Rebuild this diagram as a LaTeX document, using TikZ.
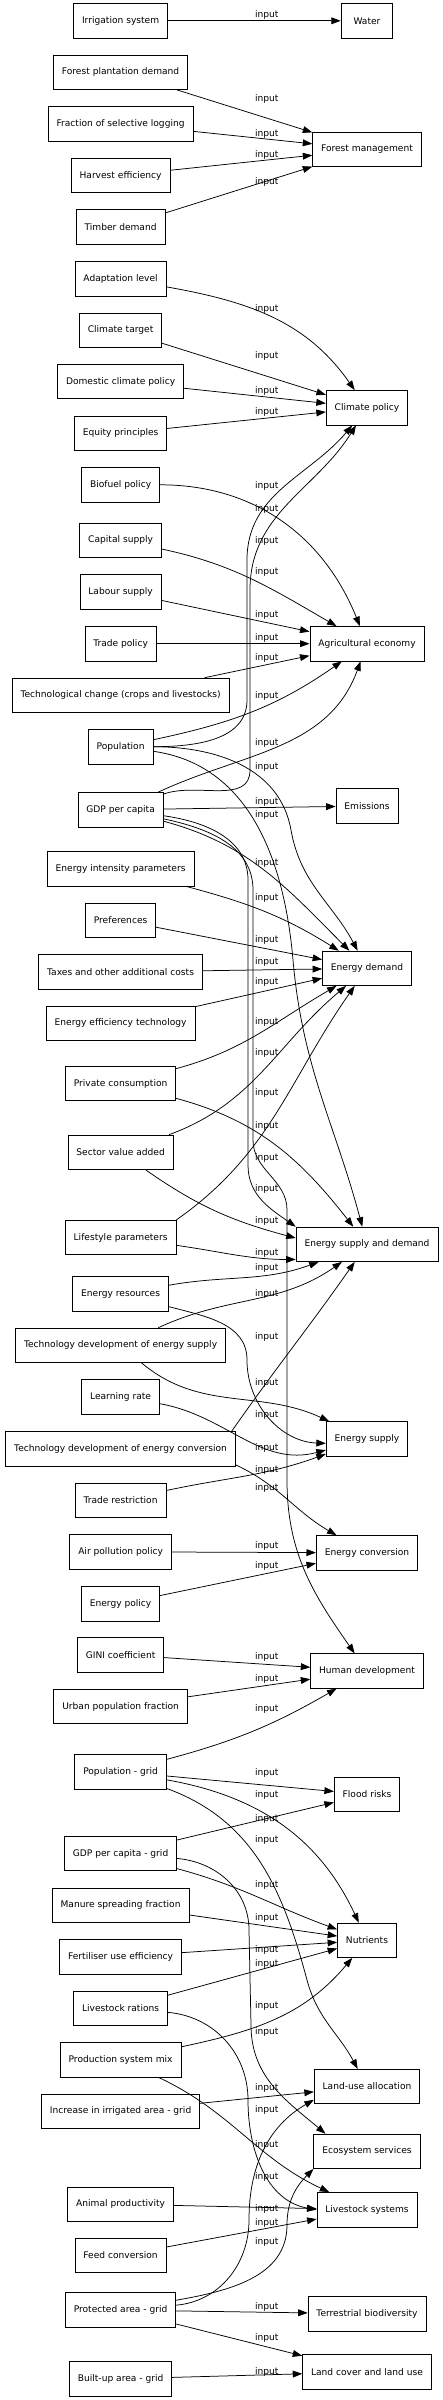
\documentclass[tikz,border=0pt]{standalone}
\usepackage{fontspec}
\setmainfont{DejaVu Sans}
\usetikzlibrary{arrows.meta}

\tikzset{
    var/.style={draw, line width=0.8pt, minimum height=34.4pt, minimum width=51.7pt, inner xsep=8.4pt, font=\fontsize{9.1}{11}\selectfont},
    lbl/.style={inner sep=0pt, font=\fontsize{9.1}{11}\selectfont},
    dep/.style={draw, line width=0.75pt, -{Triangle[length=9.5pt,width=6.8pt]}},
}

\begin{document}
\begin{tikzpicture}[x=1pt,y=1pt]
    \useasboundingbox (0,0) rectangle (442,-2400);

    % inputs
    \begin{scope}[every node/.style={var}]
        \node (irr) at (120.6,-20.8) {Irrigation system};
        \node (fpd) at (120.6,-72.2) {Forest plantation demand};
        \node (fsl) at (120.6,-123.8) {Fraction of selective logging};
        \node (hef) at (120.6,-175.5) {Harvest efficiency};
        \node (tim) at (120.6,-227) {Timber demand};
        \node (ada) at (120.6,-278.8) {Adaptation level};
        \node (ctg) at (120.6,-330.2) {Climate target};
        \node (dcp) at (120.6,-381.5) {Domestic climate policy};
        \node (eqp) at (120.6,-433.3) {Equity principles};
        \node (bio) at (120.6,-484.8) {Biofuel policy};
        \node (cap) at (120.6,-540.3) {Capital supply};
        \node (lab) at (120.6,-591.8) {Labour supply};
        \node (trp) at (120.6,-643.7) {Trade policy};
        \node (tch) at (120.6,-695.3) {Technological change (crops and livestocks)};
        \node (pop) at (120.6,-746.7) {Population};
        \node (gdp) at (120.6,-809.7) {GDP per capita};
        \node (eip) at (120.6,-868.8) {Energy intensity parameters};
        \node (prf) at (120.6,-920.3) {Preferences};
        \node (tax) at (120.6,-972) {Taxes and other additional costs};
        \node (eet) at (120.6,-1023.3) {Energy efficiency technology};
        \node (pcn) at (120.6,-1083.5) {Private consumption};
        \node (sva) at (120.6,-1152.3) {Sector value added};
        \node (lsp) at (120.6,-1237.5) {Lifestyle parameters};
        \node (ers) at (120.6,-1293.7) {Energy resources};
        \node (tds) at (120.6,-1345.3) {Technology development of energy supply};
        \node (lrn) at (120.6,-1396.8) {Learning rate};
        \node (tdc) at (120.6,-1448.7) {Technology development of energy conversion};
        \node (trr) at (120.6,-1500.2) {Trade restriction};
        \node (app) at (120.6,-1551.8) {Air pollution policy};
        \node (enp) at (120.6,-1603.7) {Energy policy};
        \node (gin) at (120.6,-1654.7) {GINI coefficient};
        \node (upf) at (120.6,-1706.5) {Urban population fraction};
        \node (ppg) at (120.6,-1771.7) {Population - grid};
        \node (gdg) at (120.6,-1853.5) {GDP per capita - grid};
        \node (msf) at (120.6,-1905.2) {Manure spreading fraction};
        \node (fue) at (120.6,-1956.7) {Fertiliser use efficiency};
        \node (lvr) at (120.6,-2008.2) {Livestock rations};
        \node (psm) at (120.6,-2059.7) {Production system mix};
        \node (iia) at (120.6,-2111.3) {Increase in irrigated area - grid};
        \node (anp) at (120.6,-2204.2) {Animal productivity};
        \node (fcv) at (120.6,-2255.5) {Feed conversion};
        \node (pag) at (120.6,-2310) {Protected area - grid};
        \node (bag) at (120.6,-2378.8) {Built-up area - grid};
    \end{scope}

    % modules
    \begin{scope}[every node/.style={var}]
        \node (wat) at (367,-20.8) {Water};
        \node (fmg) at (367,-149.5) {Forest management};
        \node (clp) at (367,-407.7) {Climate policy};
        \node (age) at (367,-643.7) {Agricultural economy};
        \node (ems) at (367,-806) {Emissions};
        \node (edm) at (367,-968.3) {Energy demand};
        \node (esd) at (367,-1244.3) {Energy supply and demand};
        \node (esu) at (367,-1439) {Energy supply};
        \node (eco) at (367,-1552.8) {Energy conversion};
        \node (hdv) at (367,-1671) {Human development};
        \node (flr) at (367,-1794.5) {Flood risks};
        \node (nut) at (367,-1940.3) {Nutrients};
        \node (lua) at (367,-2086.5) {Land-use allocation};
        \node (ecs) at (367,-2151.3) {Ecosystem services};
        \node (lvs) at (367,-2209.7) {Livestock systems};
        \node (tbd) at (367,-2313.8) {Terrestrial biodiversity};
        \node (lcl) at (367,-2372) {Land cover and land use};
    \end{scope}

    % edge labels
    \foreach \y [count=\i] in {14.7,98.7,133.7,154.7,182,309.3,356.3,390.7,411.7,486,508.7,540.7,571.7,
        615,637.7,657.7,695.7,742.7,766.7,801.7,815,863.3,897.7,940,962.3,982.3,
        1021.7,1052.7,1092.7,1126,1157.7,1189,1220.7,1253.3,1267.7,1294.3,1336.7,1383.3,
        1415,1448.3,1470,1488.3,1545.7,1565.7,1657.3,1679,1708.7,1773.3,1795,
        1819.3,1840,1885,1918.3,1950,1964.3,2006,2031.7,2088.3,2110,2145,2176.7,
        2209.3,2223.3,2241.7,2306.7,2338.3,2371.7}
        \node[lbl] (in\i) at (266.7,-\y) {input};

    % water, forest, climate
    \draw[dep] (irr) -- (wat);
    \draw[dep] (fpd) -- (fmg);
    \draw[dep] (fsl) -- (fmg);
    \draw[dep] (hef) -- (fmg);
    \draw[dep] (tim) -- (fmg);
    \draw[dep] (ada) to[out=-10,in=125] (clp);
    \draw[dep] (ctg) -- (clp);
    \draw[dep] (dcp) -- (clp);
    \draw[dep] (eqp) -- (clp);
    \draw[dep] (pop) to[out=0,in=-90] (247,-700) -- (247,-560) to[out=90,in=-130] (clp);
    \draw[dep] (gdp) to[out=20,in=-90] (250,-770) -- (250,-590) to[out=90,in=-122] (clp);

    % agricultural economy
    \draw[dep] (bio) to[out=0,in=112] (age);
    \draw[dep] (cap) to[out=-12,in=150] (age);
    \draw[dep] (lab) -- (age);
    \draw[dep] (trp) -- (age);
    \draw[dep] (tch) -- (age);
    \draw[dep] (pop) to[out=12,in=-145] (age);
    \draw[dep] (gdp) to[out=25,in=-110] (age);
    \draw[dep] (gdp) -- (ems);

    % energy
    \draw[dep] (pop) to[out=0,in=100] (291,-830) to[out=-80,in=118] (edm);
    \draw[dep] (gdp) to[out=-15,in=135] (edm);
    \draw[dep] (eip) to[out=-15,in=148] (edm);
    \draw[dep] (prf) -- (edm);
    \draw[dep] (tax) -- (edm);
    \draw[dep] (eet) -- (edm);
    \draw[dep] (pcn) to[out=15,in=-150] (edm);
    \draw[dep] (sva) to[out=20,in=-140] (edm);
    \draw[dep] (lsp.north east) to[out=35,in=-125] (edm);
    \draw[dep] (pop) to[out=-8,in=95] (293,-960) to[out=-85,in=105] (esd);
    \draw[dep] (gdp) to[out=-8,in=90] (248,-880) -- (248,-1165) to[out=-90,in=145] (esd.north west);
    \draw[dep] (pcn) to[out=-15,in=128] (esd);
    \draw[dep] (sva) to[out=-35,in=165] (esd.175);
    \draw[dep] (lsp) to[out=-8,in=180] (esd.192);
    \draw[dep] (ers) to[out=10,in=-160] (esd);
    \draw[dep] (tds) to[out=25,in=-145] (esd);
    \draw[dep] (tdc.9) to[out=55,in=-125] (esd);
    \draw[dep] (ers) to[out=-15,in=90] (247,-1360) to[out=-90,in=178] (esu.186);
    \draw[dep] (tds) to[out=-40,in=155] (esu);
    \draw[dep] (lrn) to[out=-10,in=-165] (esu);
    \draw[dep] (trr) to[out=12,in=-160] (esu);
    \draw[dep] (tdc.-8) to[out=-25,in=150] (eco);
    \draw[dep] (app) -- (eco);
    \draw[dep] (enp) -- (eco);

    % human development
    \draw[dep] (gdp) to[out=-12,in=90] (253,-890) -- (253,-1140) to[out=-90,in=90] (287,-1210) -- (287,-1480) to[out=-90,in=125] (hdv);
    \draw[dep] (gin) -- (hdv);
    \draw[dep] (upf) -- (hdv);
    \draw[dep] (ppg) to[out=15,in=-150] (hdv);

    % land
    \draw[dep] (ppg) -- (flr);
    \draw[dep] (gdg) -- (flr);
    \draw[dep] (ppg) to[out=-10,in=115] (nut);
    \draw[dep] (gdg) to[out=-15,in=160] (nut);
    \draw[dep] (msf) -- (nut);
    \draw[dep] (fue) -- (nut);
    \draw[dep] (lvr) -- (nut);
    \draw[dep] (psm) to[out=12,in=-130] (nut);
    \draw[dep] (ppg) to[out=-20,in=105] (307,-1980) to[out=-75,in=118] (lua);
    \draw[dep] (iia) -- (lua);
    \draw[dep] (pag) to[out=5,in=-90] (249,-2220) to[out=90,in=-150] (lua.194);
    \draw[dep] (gdg) to[out=-5,in=90] (249,-1930) -- (251,-2025) to[out=-90,in=140] (ecs.157);
    \draw[dep] (pag) to[out=10,in=-90] (287,-2225) to[out=90,in=-135] (ecs.south west);
    \draw[dep] (lvr) to[out=-5,in=90] (248,-2100) to[out=-90,in=170] (lvs.west);
    \draw[dep] (psm) to[out=-25,in=155] (lvs);
    \draw[dep] (anp) -- (lvs);
    \draw[dep] (fcv) -- (lvs);
    \draw[dep] (pag) -- (tbd);
    \draw[dep] (pag) -- (lcl);
    \draw[dep] (bag) -- (lcl);
\end{tikzpicture}
\end{document}
